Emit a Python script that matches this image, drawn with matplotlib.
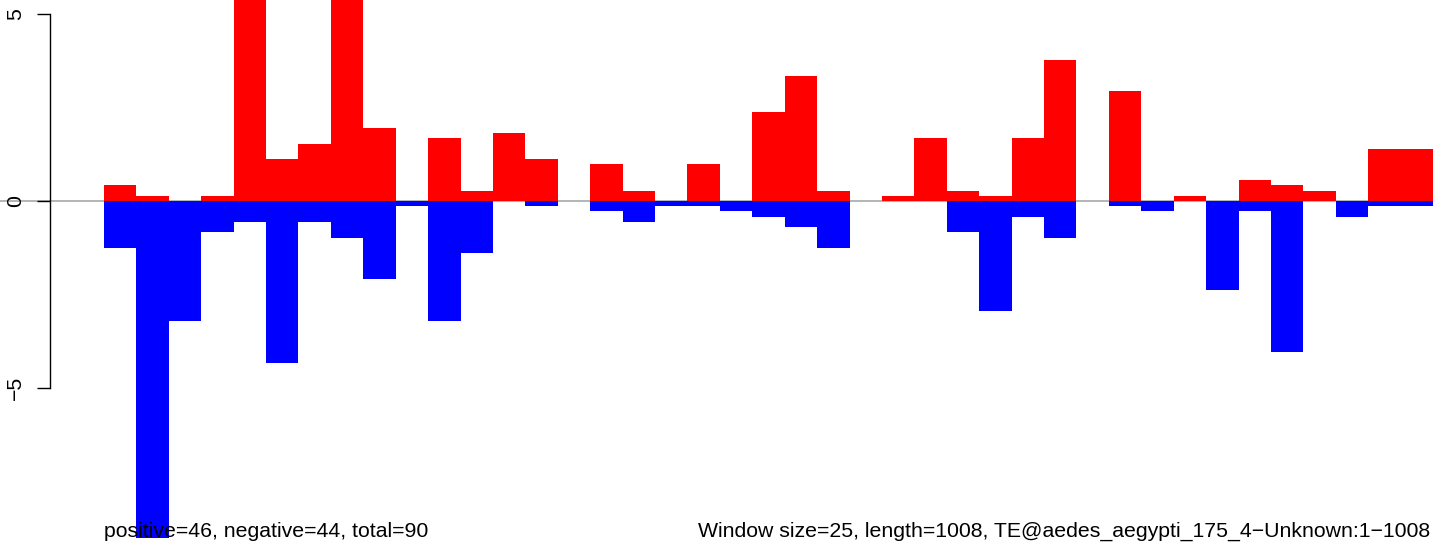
import matplotlib
matplotlib.use("Agg")
import matplotlib.pyplot as plt
import numpy as np

# Window index (41 windows of size 25 over length 1008)
windows = list(range(41))

# Positive (red) values per window
positive = [0.42, 0.14, 0.00, 0.14, 6.30, 1.12, 1.54, 6.30, 1.96, 0.00,
            1.68, 0.28, 1.82, 1.12, 0.00, 0.98, 0.28, 0.00, 0.98, 0.00,
            2.38, 3.36, 0.28, 0.00, 0.14, 1.68, 0.28, 0.14, 1.68, 3.78,
            0.00, 2.94, 0.00, 0.14, 0.00, 0.56, 0.42, 0.28, 0.00, 1.40,
            1.40]

# Negative (blue) values per window
negative = [-1.26, -9.03, -3.22, -0.84, -0.56, -4.34, -0.56, -0.98, -2.10, -0.14,
            -3.22, -1.40, 0.00, -0.14, 0.00, -0.28, -0.56, -0.14, -0.14, -0.28,
            -0.42, -0.70, -1.26, 0.00, 0.00, 0.00, -0.84, -2.94, -0.42, -0.98,
            0.00, -0.14, -0.28, 0.00, -2.38, -0.28, -4.06, 0.00, -0.42, -0.14,
            -0.14]

yticks = [-5, 0, 5]
yticklabels = ["\u22125", "0", "5"]

left_text = "positive=46, negative=44, total=90"
right_text = "Window size=25, length=1008, TE@aedes_aegypti_175_4\u2212Unknown:1\u22121008"

W, H = 1433, 543
fig = plt.figure(figsize=(W / 100, H / 100), dpi=100)
ax = fig.add_axes([0, 0, 1, 1])

bar_px = 32.415
unit_px = 37.3
x0_px = 104.0
zero_px = 201.0

ax.set_xlim(-x0_px / bar_px, (W - x0_px) / bar_px)
ax.set_ylim(-(H - zero_px) / unit_px, zero_px / unit_px)

ax.axhline(0, color="#A8A8A8", lw=1.2, zorder=1)
ax.bar(windows, positive, width=1.0, align="edge", color="#FF0000",
       linewidth=0, zorder=2, antialiased=False)
ax.bar(windows, negative, width=1.0, align="edge", color="#0000FF",
       linewidth=0, zorder=3, antialiased=False)

for s in ["top", "right", "bottom"]:
    ax.spines[s].set_visible(False)
ax.spines["left"].set_position(("data", (50 - x0_px) / bar_px))
ax.spines["left"].set_bounds(-5, 5)
ax.spines["left"].set_linewidth(1.0)
ax.set_xticks([])
ax.set_yticks(yticks)
ax.set_yticklabels(yticklabels, rotation=90, va="center",
                   fontfamily="Liberation Sans", fontsize=15.3)
ax.tick_params(axis="y", length=9.1, width=1.0, pad=9.0)

ax.text(0, -(537 - zero_px) / unit_px, left_text, ha="left", va="baseline",
        fontfamily="Liberation Sans", fontsize=15.3)
ax.text((1430 - x0_px) / bar_px, -(537 - zero_px) / unit_px, right_text,
        ha="right", va="baseline", fontfamily="Liberation Sans", fontsize=15.3)

fig.savefig("out.png", dpi=100)
